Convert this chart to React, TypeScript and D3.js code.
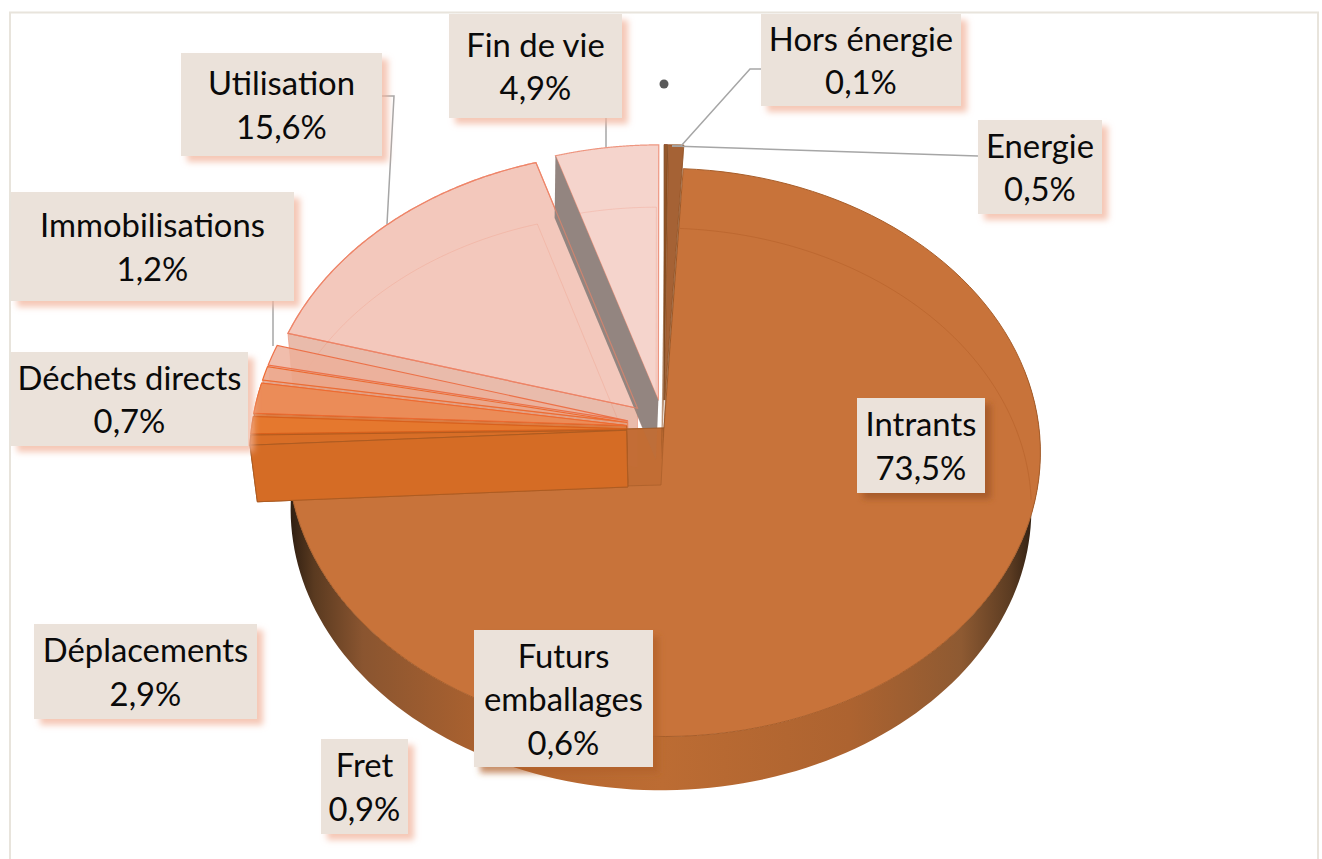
import React from "react";
import * as d3 from "d3";

// ---- data ----
const categories = ["Hors énergie", "Energie", "Intrants", "Futurs emballages", "Fret", "Déplacements", "Déchets directs", "Immobilisations", "Utilisation", "Fin de vie"];
const values = [0.1, 0.5, 73.5, 0.6, 0.9, 2.9, 0.7, 1.2, 15.6, 4.9];
const valueLabels = ["0,1%", "0,5%", "73,5%", "0,6%", "0,9%", "2,9%", "0,7%", "1,2%", "15,6%", "4,9%"];

// ---- styling and layout ----
const faceColors = ["#8E4E20", "#A05A2A", "#C8733A", "#D96F27", "#E6792F", "#EB8C58", "#EDAB90", "#EEB6A3", "#F2C5B8", "#F5D4CC"];
const faceOpacity = [0.95, 0.95, 1, 0.9, 0.9, 0.95, 0.95, 0.9, 0.95, 1];
const edgeColors = ["#7A4318", "#8E4E20", "#A85E2A", "#B35A1E", "#D9601C", "#EE6A30", "#EE6A30", "#EE7048", "#EE8468", "#EE9680"];
const boxes: Record<string, [number, number, number, number]> = {
  "Hors énergie": [761, 14, 961, 106],
  "Energie": [978, 120, 1102, 214],
  "Intrants": [857, 398, 985, 493],
  "Futurs emballages": [474, 630, 653, 767],
  "Fret": [321, 739, 408, 834],
  "Déplacements": [34, 624, 257, 719],
  "Déchets directs": [11, 352, 248, 446],
  "Immobilisations": [11, 192, 294, 301],
  "Utilisation": [181, 53, 382, 156],
  "Fin de vie": [449, 14, 622, 118],
};
const wrapped: Record<string, string[]> = { "Futurs emballages": ["Futurs", "emballages"] };
const shadowFill: Record<string, string> = { "Intrants": "#9A5222", "Futurs emballages": "#B0602A" };
const leaders: [number, number][][] = [
  [[761, 69], [750, 69], [681, 146], [672, 146]],
  [[978, 156], [672, 146]],
  [[606, 118], [606, 147]],
  [[382, 96], [394, 96], [387, 224]],
  [[273, 300], [273, 346]],
];

const deg = Math.PI / 180;
const PERSPECTIVE = 0.086;
const EXPLODE = 0.1;
const TOP = { ax: 664, ay: 428, A: 282, B: 375, e: EXPLODE };
const BOTTOM = { ax: 661, ay: 485, A: 279, B: 369, e: 0.09 };
// Intrants is drawn slightly wider than its share, as the original 3D renderer does
const INTRANTS_RANGE: [number, number] = [3.2 * deg, 268 * deg];
// The 3D renderer's angles differ a little from the exact shares
const renderAngle = d3
  .scaleLinear()
  .domain([0, 0.36, 2.14, 264.4, 266.5, 269.7, 280, 282.5, 286.8, 342.5, 360].map((d) => d * deg))
  .range([0, 0.6, 3.2, 267, 269, 272.5, 278.7, 281.6, 285.9, 342.5, 360].map((d) => d * deg));

type Plane = typeof TOP;
const project = (pl: Plane, theta: number, r: number, shift: number, mid: number): [number, number] => {
  const e = shift ? pl.e : 0;
  const u = r * Math.cos(theta) + e * Math.cos(mid);
  const v = r * Math.sin(theta) + e * Math.sin(mid);
  const s = 1 / (1 + PERSPECTIVE * u);
  return [pl.ax + pl.B * v * s, pl.ay - pl.A * u * s];
};
const line = d3.line<[number, number]>().x((d) => d[0]).y((d) => d[1]);
const arcPts = (pl: Plane, a0: number, a1: number, shift: number, mid: number) =>
  d3.range(0, 121).map((i) => project(pl, a0 + ((a1 - a0) * i) / 120, 1, shift, mid));
const face = (pl: Plane, a0: number, a1: number, shift: number, mid: number) =>
  line([project(pl, 0, 0, shift, mid), ...arcPts(pl, a0, a1, shift, mid)]) + "Z";
const endWall = (a: number, shift: number, mid: number) =>
  line([project(TOP, 0, 0, shift, mid), project(TOP, a, 1, shift, mid), project(BOTTOM, a, 1, shift, mid), project(BOTTOM, 0, 0, shift, mid)]) + "Z";

const arcs = d3.pie<number>().sort(null).startAngle(0).endAngle(2 * Math.PI)(values);
const slices = arcs.map((a, i) => ({
  name: categories[i],
  a0: renderAngle(a.startAngle),
  a1: renderAngle(a.endAngle),
  mid: (a.startAngle + a.endAngle) / 2,
  i,
}));

const FONT = "Lato, 'Open Sans', sans-serif";
const darker = (c: string) => (d3.color(c) as d3.RGBColor).darker(0.12).formatHex();

export default function App() {
  const others = slices.filter((s) => s.i !== 2);
  const backLeft = others.filter((s) => s.i >= 3 && s.i < 9).reverse();
  const energy = others.filter((s) => s.i < 2);
  const fin = slices[9];
  const fut = slices[3];
  const util = slices[8];
  const rimOuter = arcPts(TOP, 78 * deg, INTRANTS_RANGE[1], 0, 0);
  const rimInner = arcPts(BOTTOM, 78 * deg, INTRANTS_RANGE[1], 0, 0).reverse();
  return (
    <svg width={1322} height={859} style={{ position: "absolute", left: 0, top: 0, display: "block", background: "#fff" }}>
      <defs>
        <linearGradient id="rim" gradientUnits="userSpaceOnUse" x1={288} x2={1036} y1={0} y2={0}>
          <stop offset="0" stopColor="#2B1C10" />
          <stop offset="0.035" stopColor="#5A3A20" />
          <stop offset="0.1" stopColor="#8A5530" />
          <stop offset="0.3" stopColor="#B4652F" />
          <stop offset="0.5" stopColor="#BC6C33" />
          <stop offset="0.75" stopColor="#AD6330" />
          <stop offset="0.9" stopColor="#8E5A32" />
          <stop offset="0.965" stopColor="#5C3C22" />
          <stop offset="1" stopColor="#2B1C10" />
        </linearGradient>
        <filter id="soft" x="-20%" y="-20%" width="140%" height="140%">
          <feGaussianBlur stdDeviation="3" />
        </filter>
      </defs>

      <path d="M10,859V12.5H1318V859" fill="none" stroke="#E8E4DC" strokeWidth={2} />

      {/* Intrants outer wall */}
      <path d={line([...rimOuter, ...rimInner]) + "Z"} fill="url(#rim)" />

      {/* Fin de vie */}
      <path d={face(TOP, fin.a0, fin.a1, EXPLODE, fin.mid)} fill={faceColors[9]} stroke={edgeColors[9]} strokeWidth={1.2} />
      <path d={face(BOTTOM, fin.a0, fin.a1, EXPLODE, fin.mid)} fill="none" stroke={edgeColors[9]} strokeOpacity={0.3} />

      {/* Exploded slices, back to front; each shows its cut wall */}
      {backLeft.map((s) => (
        <g key={s.name}>
          <path d={endWall(s.a0, EXPLODE, s.mid)} fill={darker(faceColors[s.i])} fillOpacity={0.92} stroke={edgeColors[s.i]} strokeOpacity={0.5} />
          <path d={face(TOP, s.a0, s.a1, EXPLODE, s.mid)} fill={faceColors[s.i]} fillOpacity={faceOpacity[s.i]} stroke={edgeColors[s.i]} strokeWidth={1.2} />
          <path d={face(BOTTOM, s.a0, s.a1, EXPLODE, s.mid)} fill="none" stroke={edgeColors[s.i]} strokeOpacity={0.22} />
        </g>
      ))}
      <path d={endWall(fin.a0, EXPLODE, fin.mid)} fill="#938580" />
      <path d={face(TOP, util.a0, util.a1, EXPLODE, util.mid)} fill="none" stroke={edgeColors[8]} strokeOpacity={0.7} strokeWidth={1.2} />

      {/* Intrants top face, with the far rim of its base faintly visible */}
      <path d={face(TOP, INTRANTS_RANGE[0], INTRANTS_RANGE[1], 0, 0)} fill={faceColors[2]} stroke={edgeColors[2]} strokeWidth={1} />
      <path d={line(arcPts(BOTTOM, INTRANTS_RANGE[0], 93 * deg, 0, 0)) as string} fill="none" stroke="#B5602A" strokeOpacity={0.6} strokeWidth={1} />
      <path d={endWall(fin.a0, EXPLODE, fin.mid)} fill="#938580" fillOpacity={0.1} />
      <path d={endWall(util.a0, EXPLODE, util.mid)} fill="#E08050" fillOpacity={0.1} />
      <path d={endWall(INTRANTS_RANGE[1], 0, 0)} fill="#B8602A" fillOpacity={0.35} stroke="#A85E2A" strokeOpacity={0.7} strokeWidth={1} />

      {/* Slab of the left-hand slices, in front of Intrants */}
      {backLeft.filter((s) => s.i <= 5).map((s) => (
        <g key={s.name + "t"}>
          <path d={endWall(s.a0, EXPLODE, s.mid)} fill="#D56C26" fillOpacity={s.i === 3 ? 0.95 : 0.4} stroke="#A85A22" strokeOpacity={0.7} strokeWidth={1} />
          <path d={face(TOP, s.a0, s.a1, EXPLODE, s.mid)} fill={faceColors[s.i]} fillOpacity={0.9} stroke={edgeColors[s.i]} strokeWidth={1} />
        </g>
      ))}
      <path d={endWall(fut.a0, EXPLODE, fut.mid)} fill="#D56C26" fillOpacity={0.85} stroke="#A85A22" strokeOpacity={0.8} strokeWidth={1} />

      {/* Energy slices */}
      {energy.map((s) => (
        <g key={s.name}>
          <path d={endWall(s.a1, EXPLODE, s.mid)} fill="#8E4E20" fillOpacity={0.6} />
          <path d={face(TOP, s.a0, s.a1, EXPLODE, s.mid)} fill={faceColors[s.i]} fillOpacity={faceOpacity[s.i]} stroke={edgeColors[s.i]} strokeWidth={0.8} />
        </g>
      ))}

      {/* Stray marker and leader lines */}
      <circle cx={664} cy={84} r={4.5} fill="#595959" />
      {leaders.map((l, i) => (
        <path key={i} d={line(l) as string} fill="none" stroke="#A6A6A6" strokeWidth={1.5} />
      ))}

      {/* Data labels */}
      {categories.map((c, i) => {
        const [x0, y0, x1, y1] = boxes[c];
        const lines = [...(wrapped[c] ?? [c]), valueLabels[i]];
        const lh = 43.5;
        const cy = (y0 + y1) / 2 + 0.8;
        return (
          <g key={c}>
            <rect x={x0 + 6} y={y0 + 6} width={x1 - x0} height={y1 - y0} fill={shadowFill[c] ?? "#F2B49C"} fillOpacity={shadowFill[c] ? 0.7 : 0.75} filter="url(#soft)" />
            <rect x={x0} y={y0} width={x1 - x0} height={y1 - y0} fill="#EBE2DA" />
            {lines.map((t, k) => (
              <text key={k} x={(x0 + x1) / 2} y={cy + (k - (lines.length - 1) / 2) * lh} dy="0.36em" textAnchor="middle" fontFamily={FONT} fontSize={32.8} fill="#0a0a0a">
                {t}
              </text>
            ))}
          </g>
        );
      })}
    </svg>
  );
}
